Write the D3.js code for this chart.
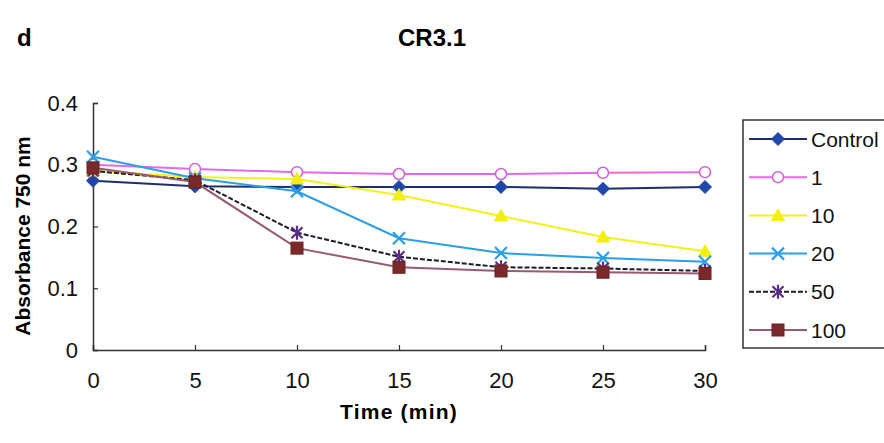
<!DOCTYPE html>
<html><head><meta charset="utf-8">
<script src="https://cdn.jsdelivr.net/npm/d3@7"></script>
<style>body{margin:0;background:#fff}svg{display:block}</style>
</head><body>
<svg id="c" width="884" height="443"></svg>
<script>
const times = [0, 5, 10, 15, 20, 25, 30];
const seriesNames = ["Control", "1", "10", "20", "50", "100"];
const control = [0.274, 0.265, 0.264, 0.264, 0.264, 0.261, 0.264];
const c1 = [0.300, 0.293, 0.288, 0.285, 0.285, 0.287, 0.288];
const c10 = [0.290, 0.280, 0.277, 0.251, 0.217, 0.183, 0.160];
const c20 = [0.313, 0.278, 0.257, 0.181, 0.157, 0.149, 0.143];
const c50 = [0.290, 0.275, 0.190, 0.151, 0.134, 0.132, 0.128];
const c100 = [0.295, 0.272, 0.165, 0.134, 0.128, 0.126, 0.124];
const yTicks = [0, 0.1, 0.2, 0.3, 0.4];
const xTicks = [0, 5, 10, 15, 20, 25, 30];

const styles = [
  {line:"#1b2f6e", fill:"#1f47a8", stroke:"#1f47a8", shape:"diamond", dash:null},
  {line:"#e16be0", fill:"#fff", stroke:"#d65fd6", shape:"circle", dash:null},
  {line:"#f2f21a", fill:"#f2ee10", stroke:"#f2ee10", shape:"triangle", dash:null},
  {line:"#2a9ee8", fill:"none", stroke:"#2a9ee8", shape:"x", dash:null},
  {line:"#1c1c2a", fill:"none", stroke:"#5a2d8c", shape:"star", dash:"5,2"},
  {line:"#9a5a6e", fill:"#7a2a2a", stroke:"#6a2020", shape:"square", dash:null}
];
const data = [control, c1, c10, c20, c50, c100];

const svg = d3.select("#c");
const font = "'Liberation Sans', Arial, sans-serif";

const x = d3.scaleLinear().domain([0, 30]).range([93, 705]);
const y = d3.scaleLinear().domain([0, 0.4]).range([350, 103]);

// axes
const yAxis = d3.axisLeft(y).tickValues(yTicks).tickSize(-5)
  .tickFormat(d => d === 0 ? "0" : d3.format(".1f")(d));
const gy = svg.append("g").attr("transform", `translate(${x(0)},0)`).call(yAxis);
const xAxis = d3.axisBottom(x).tickValues(xTicks).tickSize(-5).tickPadding(22);
const gx = svg.append("g").attr("transform", `translate(0,${y(0)})`).call(xAxis);
[gy, gx].forEach(g => {
  g.select(".domain").attr("stroke", "#333").attr("stroke-width", 1.5);
  g.selectAll(".tick line").attr("stroke", "#333").attr("stroke-width", 1.2);
  g.selectAll("text").attr("font-family", font).attr("font-size", 22).attr("fill", "#111");
});
gx.selectAll(".tick text").attr("dy", "0.71em");
gy.selectAll(".tick text").attr("x", -15);

function drawMarker(g, s, cx, cy) {
  const sz = 6.5;
  if (s.shape === "diamond") {
    g.append("path").attr("d", `M${cx},${cy-sz}L${cx+sz},${cy}L${cx},${cy+sz}L${cx-sz},${cy}Z`)
      .attr("fill", s.fill).attr("stroke", s.stroke);
  } else if (s.shape === "circle") {
    g.append("circle").attr("cx", cx).attr("cy", cy).attr("r", 5.5)
      .attr("fill", s.fill).attr("stroke", s.stroke).attr("stroke-width", 1.5);
  } else if (s.shape === "triangle") {
    g.append("path").attr("d", `M${cx},${cy-6.5}L${cx+6.5},${cy+5}L${cx-6.5},${cy+5}Z`)
      .attr("fill", s.fill).attr("stroke", s.stroke);
  } else if (s.shape === "x") {
    g.append("path").attr("d", `M${cx-6},${cy-6}L${cx+6},${cy+6}M${cx+6},${cy-6}L${cx-6},${cy+6}`)
      .attr("stroke", s.stroke).attr("stroke-width", 2.2).attr("fill", "none");
  } else if (s.shape === "star") {
    g.append("path").attr("d", `M${cx-5.5},${cy-5.5}L${cx+5.5},${cy+5.5}M${cx+5.5},${cy-5.5}L${cx-5.5},${cy+5.5}M${cx},${cy-7}L${cx},${cy+7}`)
      .attr("stroke", s.stroke).attr("stroke-width", 2.2).attr("fill", "none");
  } else if (s.shape === "square") {
    g.append("rect").attr("x", cx-6).attr("y", cy-6).attr("width", 12).attr("height", 12)
      .attr("fill", s.fill).attr("stroke", s.stroke);
  }
}

const line = d3.line().x((d, i) => x(times[i])).y(d => y(d));
const plot = svg.append("g");
data.forEach((vals, k) => {
  const s = styles[k];
  const g = plot.append("g");
  g.append("path").datum(vals).attr("d", line).attr("fill", "none")
    .attr("stroke", s.line).attr("stroke-width", 2).attr("stroke-dasharray", s.dash);
  vals.forEach((v, i) => drawMarker(g, s, x(times[i]), y(v)));
});

// legend
const lg = svg.append("g");
lg.append("rect").attr("x", 743).attr("y", 120).attr("width", 150).attr("height", 228)
  .attr("fill", "#fff").attr("stroke", "#333").attr("stroke-width", 1.5);
seriesNames.forEach((n, k) => {
  const s = styles[k];
  const ly = 139 + k * 38.2;
  lg.append("line").attr("x1", 749).attr("x2", 807).attr("y1", ly).attr("y2", ly)
    .attr("stroke", s.line).attr("stroke-width", 2).attr("stroke-dasharray", s.dash);
  drawMarker(lg, s, 778, ly);
  lg.append("text").attr("x", 811).attr("y", ly).attr("dy", "0.36em")
    .attr("font-family", font).attr("font-size", 21).attr("fill", "#111").text(n);
});

// titles
svg.append("text").attr("x", 432).attr("y", 46).attr("text-anchor", "middle")
  .attr("font-family", font).attr("font-weight", "bold").attr("font-size", 24).text("CR3.1");
svg.append("text").attr("x", 17).attr("y", 46)
  .attr("font-family", font).attr("font-weight", "bold").attr("font-size", 24).text("d");
svg.append("text").attr("x", 399).attr("y", 419).attr("text-anchor", "middle")
  .attr("font-family", font).attr("font-weight", "bold").attr("font-size", 21)
  .attr("letter-spacing", 1.2).text("Time (min)");
svg.append("text").attr("transform", "translate(30,236) rotate(-90)").attr("text-anchor", "middle")
  .attr("font-family", font).attr("font-weight", "bold").attr("font-size", 21).text("Absorbance 750 nm");
</script>
</body></html>
